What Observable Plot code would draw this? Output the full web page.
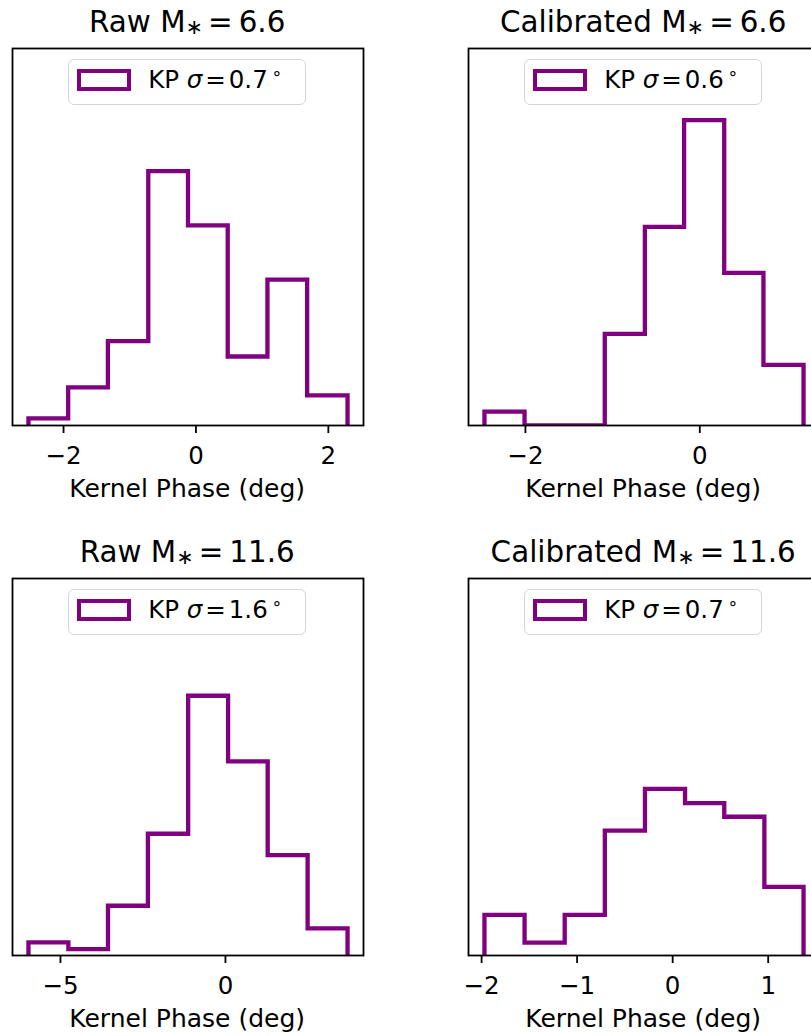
<!DOCTYPE html>
<html><head><meta charset="utf-8">
<script src="https://cdn.jsdelivr.net/npm/d3@7"></script>
<script src="https://cdn.jsdelivr.net/npm/@observablehq/plot@0.6"></script>
<style>
html,body{margin:0;padding:0;background:#fff;overflow:hidden}
#fig{position:relative;width:811px;height:1036px;overflow:hidden;font-family:"DejaVu Sans",sans-serif;color:#000;background:#fff}
.abs{position:absolute;white-space:nowrap}
.title{font-size:29.4px;line-height:1;text-align:center}
.title sub{font-size:0.7em;vertical-align:-0.1em;line-height:0;margin-right:0.26em}
.legend{border:1.3px solid #d5d5d5;border-radius:6px;background:#fff;box-sizing:border-box}
.patch{border:4.3px solid #800080;box-sizing:border-box;background:#fff}
.ltext{font-size:24.5px;line-height:1}
.ltext sup{font-size:0.7em;vertical-align:0.5em;line-height:0;margin-left:0.22em}
.xlabel{font-size:25px;line-height:1;text-align:center}
</style></head><body><div id="fig"></div>
<script>
// ---- data ----
const kinds = ["Raw", "Calibrated", "Raw", "Calibrated"];
const masses = ["6.6", "6.6", "11.6", "11.6"];
const sigmas = ["0.7", "0.6", "1.6", "0.7"];

const edgesTL = [-2.53, -1.93, -1.33, -0.72, -0.12, 0.48, 1.08, 1.68, 2.29];
const heightsTL = [0.019, 0.101, 0.224, 0.675, 0.531, 0.183, 0.387, 0.080];
const ticksTL = [-2, 0, 2];

const edgesTR = [-2.47, -2.01, -1.55, -1.09, -0.63, -0.18, 0.28, 0.73, 1.19];
const heightsTR = [0.037, 0, 0, 0.243, 0.527, 0.810, 0.405, 0.161];
const ticksTR = [-2, 0];

const edgesBL = [-5.97, -4.76, -3.56, -2.35, -1.13, 0.08, 1.28, 2.49, 3.70];
const heightsBL = [0.035, 0.017, 0.132, 0.323, 0.689, 0.515, 0.266, 0.072];
const ticksBL = [-5, 0];

const edgesBR = [-1.97, -1.55, -1.13, -0.71, -0.29, 0.13, 0.54, 0.96, 1.37];
const heightsBR = [0.108, 0.034, 0.108, 0.331, 0.442, 0.404, 0.368, 0.182];
const ticksBR = [-2, -1, 0, 1];

const xLabel = "Kernel Phase (deg)";

// ---- layout ----
const fig = document.getElementById("fig");
const W = 351, H = 377;
const layout = [
  {FL: 11.7, FT: 47.7}, {FL: 467.7, FT: 47.7},
  {FL: 11.7, FT: 577.7}, {FL: 467.7, FT: 577.7}
];
const series = [
  [edgesTL, heightsTL, ticksTL],
  [edgesTR, heightsTR, ticksTR],
  [edgesBL, heightsBL, ticksBL],
  [edgesBR, heightsBR, ticksBR]
];
const fmt = d => (d < 0 ? "\u2212" : "") + Math.abs(d);

function el(cls, css, html) {
  const d = document.createElement("div");
  d.className = "abs " + cls;
  Object.assign(d.style, css);
  if (html != null) d.innerHTML = html;
  fig.appendChild(d);
  return d;
}

series.forEach(([edges, heights, ticks], k) => {
  const {FL, FT} = layout[k];
  const mL = 12, mR = 12, mT = 4, mB = 60;
  const n = edges.length - 1;
  const span = edges[n] - edges[0];
  const domain = [edges[0] - 0.05 * span, edges[n] + 0.05 * span];
  const pts = [{x: edges[0], y: 0}];
  heights.forEach((h, i) => pts.push({x: edges[i], y: h}));
  pts.push({x: edges[n], y: 0});

  const svg = Plot.plot({
    width: W + mL + mR, height: H + mT + mB,
    marginLeft: mL, marginRight: mR, marginTop: mT, marginBottom: mB,
    x: {domain, axis: null},
    y: {domain: [0, 1], axis: null},
    style: {fontFamily: "DejaVu Sans", fontSize: "24.5px", background: "transparent", overflow: "visible", color: "black"},
    marks: [
      Plot.line(pts, {x: "x", y: "y", curve: "step-after", stroke: "#800080", strokeWidth: 4.3,
        strokeLinejoin: "miter", strokeLinecap: "butt", strokeMiterlimit: 10, clip: true}),
      Plot.frame({stroke: "black", strokeWidth: 1.8}),
      Plot.axisX({ticks, tickSize: 8, tickPadding: 13, strokeWidth: 1.8, label: null, tickFormat: fmt, fontSize: 24.5})
    ]
  });
  svg.style.position = "absolute";
  svg.style.left = (FL - mL) + "px";
  svg.style.top = (FT - mT) + "px";
  fig.appendChild(svg);

  // title
  el("title", {left: FL + "px", width: W + "px", top: (FT - 14.7 - 0.846 * 29.4) + "px"},
    `${kinds[k]} M<sub>\u2217</sub>=<span style="margin-left:0.2em">${masses[k]}</span>`);
  // legend
  el("legend", {left: (FL + 56.6) + "px", top: (FT + 11.6) + "px", width: "237.7px", height: "45.7px"});
  el("patch", {left: (FL + 65.6) + "px", top: (FT + 21.6) + "px", width: "53.4px", height: "21.4px"});
  el("ltext", {left: (FL + 136.5) + "px", top: (FT + 40.6 - 0.846 * 24.5) + "px"},
    `KP <i>\u03c3</i><span style="margin:0 0.12em">=</span>${sigmas[k]}<sup>\u2218</sup>`);
  // x label
  el("xlabel", {left: FL + "px", width: W + "px", top: (FT + H + 72 - 0.846 * 25) + "px"}, xLabel);
});
</script></body></html>
